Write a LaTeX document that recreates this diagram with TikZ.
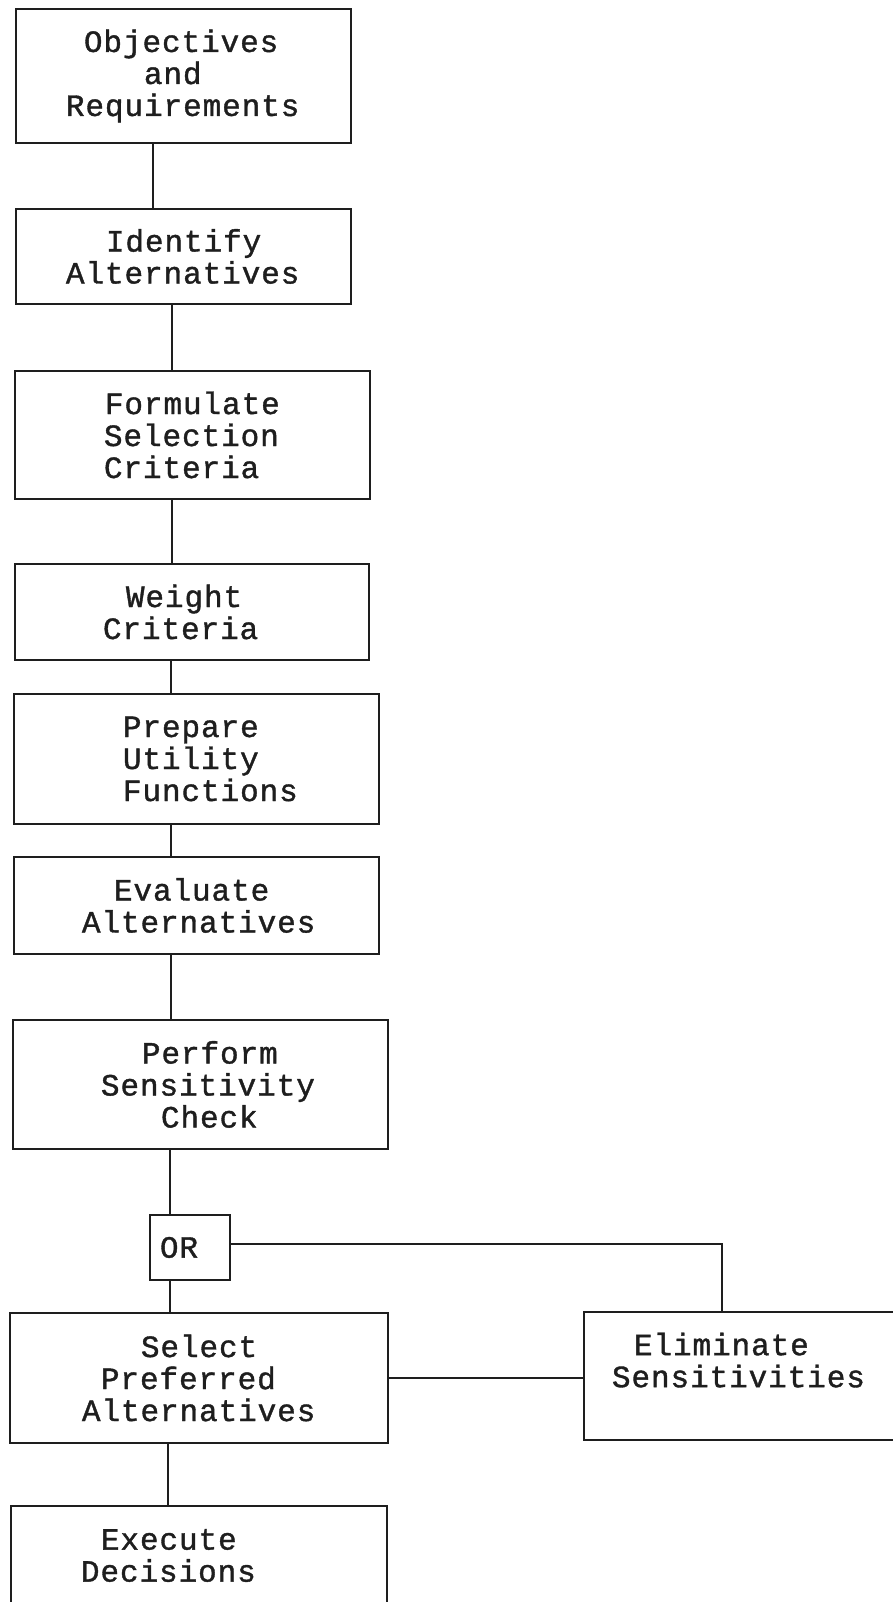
\documentclass[tikz,border=0pt]{standalone}
\usepackage{fontspec}
\newfontfamily\boxfont{Liberation Mono}[LetterSpace=3,FakeBold=1.2]
\newcommand\ind[1]{\hspace*{#1pt}}
\definecolor{ink}{RGB}{30,30,30}
\begin{document}
\begin{tikzpicture}[x=1pt,y=-1pt,
  stepbox/.style={draw=ink,line width=1.9pt,anchor=north west,inner xsep=0pt,inner ysep=0pt,
    align=left,text=ink,font=\boxfont\fontsize{31}{32}\selectfont},
  link/.style={draw=ink,line width=1.9pt}]
\clip (0,0) rectangle (893,1602);
\fill[white] (0,0) rectangle (893,1602);

% main chain of steps
\node[stepbox,text width=335pt,minimum height=134pt] (b1) at (15,8)
  {\ind{68}Objectives\\\ind{128}and\\\ind{50}Requirements};
\node[stepbox,text width=335pt,minimum height=95pt] (b2) at (15,208)
  {\ind{90}Identify\\\ind{50}Alternatives};
\node[stepbox,text width=355pt,minimum height=128pt] (b3) at (14,370)
  {\ind{90}Formulate\\\ind{89}Selection\\\ind{89}Criteria};
\node[stepbox,text width=354pt,minimum height=96pt] (b4) at (14,563)
  {\ind{111}Weight\\\ind{88}Criteria};
\node[stepbox,text width=365pt,minimum height=130pt] (b5) at (13,693)
  {\ind{109}Prepare\\\ind{109}Utility\\\ind{109}Functions};
\node[stepbox,text width=365pt,minimum height=97pt] (b6) at (13,856)
  {\ind{100}Evaluate\\\ind{68}Alternatives};
\node[stepbox,text width=375pt,minimum height=129pt] (b7) at (12,1019)
  {\ind{129}Perform\\\ind{88}Sensitivity\\\ind{148}Check};
\node[stepbox,text width=80pt,minimum height=65pt] (or) at (149,1214)
  {\ind{10}OR};
\node[stepbox,text width=378pt,minimum height=130pt] (b8) at (9,1312)
  {\ind{131}Select\\\ind{91}Preferred\\\ind{72}Alternatives};
\node[stepbox,text width=376pt,minimum height=99pt] (b9) at (10,1505)
  {\ind{90}Execute\\\ind{70}Decisions};
% side branch; its right side runs past the page edge
\node[stepbox,text width=330pt,minimum height=128pt] (be) at (583,1311)
  {\ind{50}Eliminate\\\ind{28}Sensitivities\\\mbox{}};

% connectors
\draw[link] ([xshift=138pt]b1.south west) -- ([xshift=138pt]b2.north west);
\draw[link] ([xshift=157pt]b2.south west) -- ([xshift=158pt]b3.north west);
\draw[link] ([xshift=158pt]b3.south west) -- ([xshift=158pt]b4.north west);
\draw[link] ([xshift=157pt]b4.south west) -- ([xshift=158pt]b5.north west);
\draw[link] ([xshift=158pt]b5.south west) -- ([xshift=158pt]b6.north west);
\draw[link] ([xshift=158pt]b6.south west) -- ([xshift=159pt]b7.north west);
\draw[link] ([xshift=158pt]b7.south west) -- ([xshift=21pt]or.north west);
\draw[link] ([xshift=21pt]or.south west) -- ([xshift=161pt]b8.north west);
\draw[link] ([xshift=159pt]b8.south west) -- ([xshift=158pt]b9.north west);
\coordinate (jE) at (722,1244);
\draw[link] (or.east |- jE) -- (jE) -- (jE |- be.north);
\draw[link] (b8.east) -- (b8.east -| be.west);
\end{tikzpicture}
\end{document}
